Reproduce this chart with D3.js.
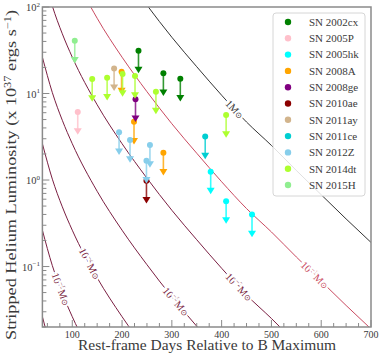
<!DOCTYPE html>
<html>
<head>
<meta charset="utf-8">
<script src="https://cdn.jsdelivr.net/npm/d3@7"></script>
<style>
  body { margin: 0; background: #fff; }
  svg { display: block; font-family: "Liberation Serif", "DejaVu Serif", serif; }
</style>
</head>
<body>
<svg width="382" height="357"></svg>
<script>
// supernovae (legend order) and their upper limits: [days, luminosity x1e37]
const names = ['SN 2002cx', 'SN 2005P', 'SN 2005hk', 'SN 2008A', 'SN 2008ge', 'SN 2010ae',
  'SN 2011ay', 'SN 2011ce', 'SN 2012Z', 'SN 2014dt', 'SN 2015H'];
const colors = ['#008000', '#ffc0cb', '#00ffff', '#ffa500', '#800080', '#8b0000',
  '#d2b48c', '#00ced1', '#87ceeb', '#adff2f', '#90ee90'];
const limits = [
  [[233, 31.3], [283, 17.1], [317, 14.8]],
  [[111, 6.1]],
  [[378, 1.25], [409, 0.57], [461, 0.40]],
  [[199, 17.9], [224, 4.72], [283, 2.07]],
  [[227, 8.57]],
  [[249, 0.98]],
  [[184, 19.5]],
  [[367, 3.18]],
  [[194, 3.56], [216, 2.90], [256, 2.54], [249, 1.67]],
  [[140, 14.7], [170, 15.2], [201, 16.8], [226, 15.9], [268, 10.5], [409, 5.64]],
  [[105, 40.7]]
];

// model track for 1 Msun of stripped helium
const modelDays = [40, 60, 80, 100, 150, 200, 250, 300, 350, 400, 450, 500, 550, 600, 650, 700];
const modelLum = [26300, 10230, 4900, 2630, 741, 263, 105, 44.7, 20.4, 9.55, 4.68, 2.51, 1.29, 0.676, 0.355, 0.19];
const masses = [1, 1e-1, 1e-2, 1e-3, 1e-4, 1e-5, 1e-6];
const massExp = ['0', '-1', '-2', '-3', '-4', '-5', '-6'];
const massColors = ['#333333', '#c94a60', '#7a1f42', '#7a1f42', '#7a1f42', '#7a1f42', '#7a1f42'];
const labelDays = [426, 587, 435, 308, 135, 77, null];

const xTicks = [100, 200, 300, 400, 500, 600, 700];
const yTicks = [1e-1, 1, 10, 100];
const yTickExp = ['−1', '0', '1', '2'];

const svg = d3.select('svg');
const x = d3.scaleLinear().domain([40, 700]).range([42.4, 371]);
const y = d3.scaleLog().domain([0.02, 100]).range([327, 7]);
const axisCol = '#8a8a8a';
const textCol = '#3a3a3a';

svg.append('clipPath').attr('id', 'clip')
  .append('rect').attr('x', 42.4).attr('y', 7).attr('width', 371 - 42.4).attr('height', 320);

const plot = svg.append('g').attr('clip-path', 'url(#clip)');

// log-linear interpolation along the model track
function modelAt(t) {
  let i = d3.bisectRight(modelDays, t) - 1;
  i = Math.max(0, Math.min(modelDays.length - 2, i));
  const f = (t - modelDays[i]) / (modelDays[i + 1] - modelDays[i]);
  return Math.pow(10, Math.log10(modelLum[i]) * (1 - f) + Math.log10(modelLum[i + 1]) * f);
}

const line = d3.line()
  .x(d => x(d[0]))
  .y(d => y(d[1]))
  .curve(d3.curveMonotoneX);

masses.forEach((m, k) => {
  const pts = modelDays.map((t, i) => [t, modelLum[i] * m]);
  plot.append('path')
    .attr('d', line(pts))
    .attr('fill', 'none')
    .attr('stroke', massColors[k])
    .attr('stroke-width', 1);
});

// inline curve labels
masses.forEach((m, k) => {
  const t = labelDays[k];
  if (t == null) return;
  const px = x(t), py = y(modelAt(t) * m);
  const p2x = x(t + 4), p2y = y(modelAt(t + 4) * m);
  const ang = Math.atan2(p2y - py, p2x - px) * 180 / Math.PI;
  const g = plot.append('g').attr('transform', `translate(${px},${py}) rotate(${ang})`);
  const txt = g.append('text')
    .attr('text-anchor', 'middle')
    .attr('dy', '0.35em')
    .attr('font-size', 10.5)
    .attr('fill', massColors[k])
    .attr('stroke', '#fff')
    .attr('stroke-width', 4)
    .attr('paint-order', 'stroke');
  if (k === 0) {
    txt.append('tspan').text('1M');
  } else {
    txt.append('tspan').text('10');
    txt.append('tspan').attr('dy', -4).attr('font-size', 7).text(massExp[k].replace('-', '−'));
    txt.append('tspan').attr('dy', 4).text('M');
  }
  txt.append('tspan').attr('font-size', 8).attr('font-family', 'DejaVu Sans').text('⊙');
});

// upper limits
names.forEach((n, k) => {
  const g = plot.append('g');
  limits[k].forEach(d => {
    const cx = x(d[0]), top = y(d[1]), bot = y(d[1] * 0.6);
    g.append('line')
      .attr('x1', cx).attr('x2', cx)
      .attr('y1', top).attr('y2', bot)
      .attr('stroke', colors[k]).attr('stroke-width', 1.6).attr('stroke-opacity', 0.8);
    g.append('path')
      .attr('d', `M${cx - 4},${bot - 3}L${cx + 4},${bot - 3}L${cx},${bot + 3.5}Z`)
      .attr('fill', colors[k]);
    g.append('circle')
      .attr('cx', cx).attr('cy', top).attr('r', 3)
      .attr('fill', colors[k]);
  });
});

// frame
svg.append('rect')
  .attr('x', 42.4).attr('y', 7).attr('width', 371 - 42.4).attr('height', 320)
  .attr('fill', 'none').attr('stroke', axisCol).attr('stroke-width', 1.5);

// x ticks (inward)
const xMinor = d3.range(50, 700, 25).filter(v => v % 100 !== 0);
svg.selectAll('line.xmin').data(xMinor).enter().append('line')
  .attr('x1', d => x(d)).attr('x2', d => x(d))
  .attr('y1', 327).attr('y2', 323)
  .attr('stroke', axisCol).attr('stroke-width', 1);
svg.selectAll('line.xmaj').data(xTicks).enter().append('line')
  .attr('x1', d => x(d)).attr('x2', d => x(d))
  .attr('y1', 327).attr('y2', 320)
  .attr('stroke', axisCol).attr('stroke-width', 1);
svg.selectAll('text.xlab').data(xTicks).enter().append('text')
  .attr('x', d => x(d)).attr('y', 337.5)
  .attr('text-anchor', 'middle')
  .attr('font-size', 10)
  .attr('fill', textCol)
  .text(d => d);

// y ticks (inward), log minor ticks
const yMinor = [];
[0.01, 0.1, 1, 10].forEach(b => d3.range(2, 10).forEach(i => {
  const v = b * i;
  if (v >= 0.02 && v <= 100) yMinor.push(v);
}));
svg.selectAll('line.ymin').data(yMinor).enter().append('line')
  .attr('x1', 42.4).attr('x2', 46.4)
  .attr('y1', d => y(d)).attr('y2', d => y(d))
  .attr('stroke', axisCol).attr('stroke-width', 1);
svg.selectAll('line.ymaj').data(yTicks).enter().append('line')
  .attr('x1', 42.4).attr('x2', 49.4)
  .attr('y1', d => y(d)).attr('y2', d => y(d))
  .attr('stroke', axisCol).attr('stroke-width', 1);
yTicks.forEach((v, i) => {
  const t = svg.append('text')
    .attr('x', 40).attr('y', y(v) + 4)
    .attr('text-anchor', 'end')
    .attr('font-size', 10.5)
    .attr('fill', textCol);
  t.append('tspan').text('10');
  t.append('tspan').attr('dy', -4.5).attr('font-size', 7).text(yTickExp[i]);
});

// axis titles
svg.append('text')
  .attr('x', 78).attr('y', 350)
  .attr('font-size', 14)
  .attr('textLength', 258)
  .attr('lengthAdjust', 'spacingAndGlyphs')
  .attr('fill', textCol)
  .text('Rest-frame Days Relative to B Maximum');

const yl = svg.append('text')
  .attr('transform', 'translate(16,340) rotate(-90)')
  .attr('font-size', 14)
  .attr('textLength', 330)
  .attr('lengthAdjust', 'spacingAndGlyphs')
  .attr('fill', textCol);
yl.append('tspan').text('Stripped Helium Luminosity (x 10');
yl.append('tspan').attr('dy', -5).attr('font-size', 9.5).text('37');
yl.append('tspan').attr('dy', 5).text(' ergs s');
yl.append('tspan').attr('dy', -5).attr('font-size', 9.5).text('−1');
yl.append('tspan').attr('dy', 5).text(')');

// legend
const lg = svg.append('g');
lg.append('rect')
  .attr('x', 273).attr('y', 13).attr('width', 92).attr('height', 183).attr('rx', 3)
  .attr('fill', '#fff').attr('fill-opacity', 0.85)
  .attr('stroke', '#d6d6d6').attr('stroke-width', 1);
names.forEach((n, i) => {
  const ly = 22 + i * 16.3;
  lg.append('circle').attr('cx', 288).attr('cy', ly).attr('r', 3.2).attr('fill', colors[i]);
  lg.append('text')
    .attr('x', 309).attr('y', ly + 3.8)
    .attr('font-size', 11)
    .attr('fill', textCol)
    .text(n);
});
</script>
</body>
</html>
